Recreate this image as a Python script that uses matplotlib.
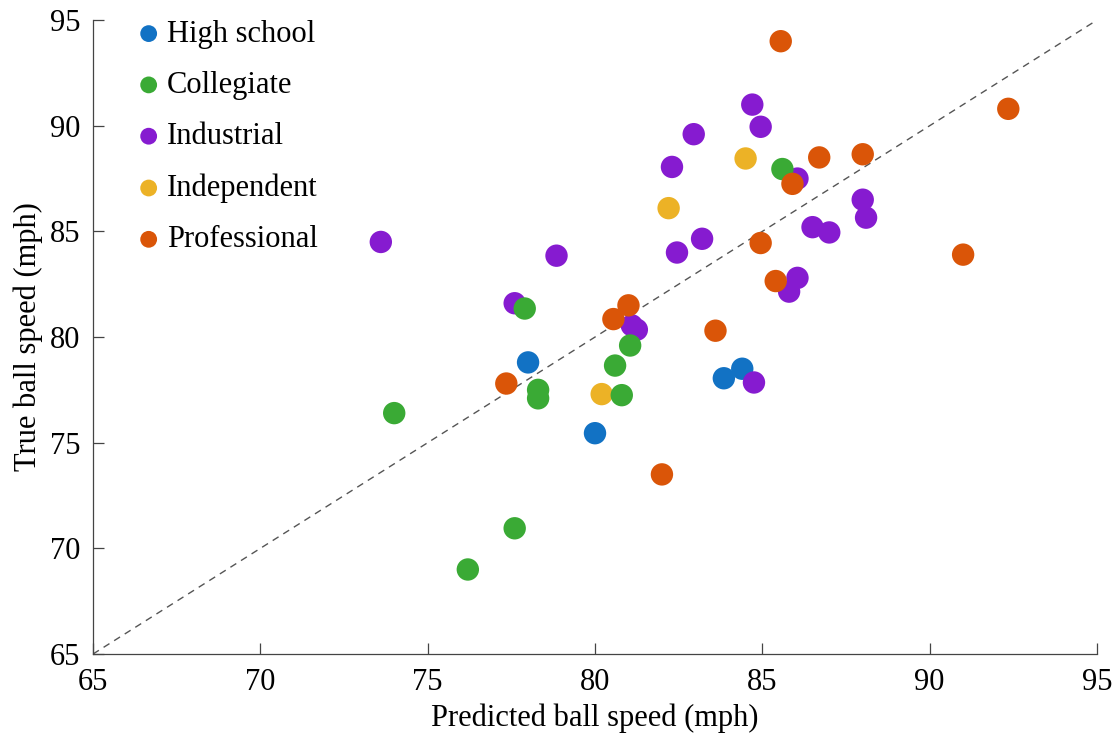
import matplotlib

matplotlib.use("Agg")
import matplotlib.pyplot as plt

plt.rcParams["font.family"] = ["Liberation Serif", "DejaVu Serif"]

# predicted (x) vs true (y) ball speed, mph
hs_pred = [78.0, 80.0, 83.85, 84.4]
hs_true = [78.8, 75.45, 78.05, 78.5]

col_pred = [74.0, 76.2, 77.6, 77.9, 78.3, 78.3, 80.6, 80.8, 81.05, 85.6]
col_true = [76.4, 69.0, 70.95, 81.35, 77.5, 77.1, 78.65, 77.25, 79.6, 87.95]

ind_pred = [73.6, 77.6, 78.85, 82.3, 82.45, 82.95, 83.2, 81.1, 81.25, 84.7, 84.95,
            84.75, 86.05, 85.8, 86.05, 86.5, 87.0, 88.0, 88.1]
ind_true = [84.5, 81.6, 83.85, 88.05, 84.0, 89.6, 84.65, 80.55, 80.35, 91.0, 89.95,
            77.85, 87.5, 82.15, 82.8, 85.2, 84.95, 86.5, 85.65]

indep_pred = [80.2, 82.2, 84.5]
indep_true = [77.3, 86.1, 88.45]

pro_pred = [77.35, 80.55, 81.0, 82.0, 83.6, 84.95, 85.4, 85.55, 85.9, 86.7, 88.0, 91.0, 92.35]
pro_true = [77.8, 80.85, 81.5, 73.5, 80.3, 84.45, 82.65, 94.0, 87.25, 88.5, 88.65, 83.9, 90.8]

groups = ["High school", "Collegiate", "Industrial", "Independent", "Professional"]
colors = ["#1272c4", "#3aaa35", "#861bd0", "#ecb226", "#da5508"]
layer = [2, 5, 3, 4, 6]

ticks = [65, 70, 75, 80, 85, 90, 95]

fig = plt.figure(figsize=(11.18, 7.38), dpi=100)
ax = fig.add_axes([0.0832, 0.1138, 0.898, 0.859])

ax.plot([65, 95], [65, 95], ls=(0, (5, 4)), color="#555555", lw=1.0, zorder=1)

data = [(hs_pred, hs_true), (col_pred, col_true), (ind_pred, ind_true),
        (indep_pred, indep_true), (pro_pred, pro_true)]
for (xs, ys), name, c, z in zip(data, groups, colors, layer):
    ax.scatter(xs, ys, s=260, color=c, edgecolors="none", label=name, zorder=z)

ax.set_xlim(65, 95)
ax.set_ylim(65, 95)
ax.set_xticks(ticks)
ax.set_yticks(ticks)
for side in ("top", "right"):
    ax.spines[side].set_visible(False)
for side in ("left", "bottom"):
    ax.spines[side].set_color("#444444")
    ax.spines[side].set_linewidth(0.9)
ax.tick_params(direction="in", length=8, width=0.9, color="#444444", labelsize=22)
ax.tick_params(axis="x", pad=10)
ax.tick_params(axis="y", pad=9)

ax.set_xlabel("Predicted ball speed (mph)", fontsize=22, labelpad=5)
ax.set_ylabel("True ball speed (mph)", fontsize=22, labelpad=5)

ax.legend(loc="upper left", bbox_to_anchor=(0.025, 1.02), frameon=False, fontsize=22,
          markerscale=0.75, handletextpad=0.0, labelspacing=0.73, handlelength=1.2,
          borderaxespad=0.0)

fig.savefig("out.png", dpi=100)
